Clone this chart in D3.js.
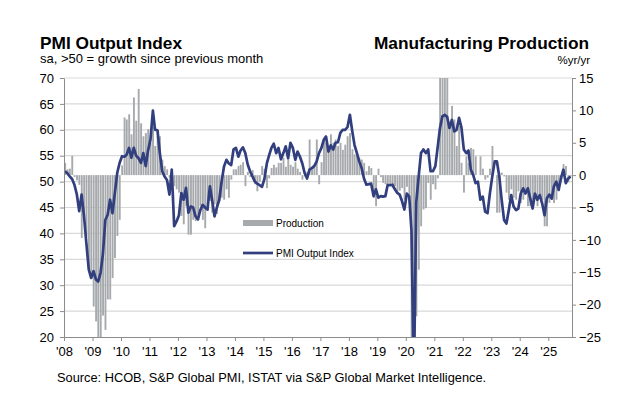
<!DOCTYPE html>
<html>
<head>
<meta charset="utf-8">
<script src="https://cdn.jsdelivr.net/npm/d3@7"></script>
<style>
  body { margin: 0; background: #fff; }
  svg { display: block; font-family: "Liberation Sans", Arial, sans-serif; }
</style>
</head>
<body>
<div id="chart"></div>
<script>
// monthly values, Jan 2008 .. Oct 2025 (one row per year)
const pmiOutput = [
  52.0, 51.6, 51.0, 50.5, 49.4, 47.5, 44.3, 47.5, 43.3, 38.1, 33.0, 31.4,
  32.7, 31.1, 30.7, 32.4, 36.0, 42.6, 43.6, 46.5, 43.9, 47.8, 51.7, 53.6,
  54.9, 54.8, 55.2, 56.5, 54.6, 56.5, 55.0, 54.5, 53.6, 55.5, 53.0, 56.0,
  58.1, 63.7, 60.0, 59.9, 55.5, 52.0, 51.0, 50.3, 47.5, 52.3, 41.4, 42.3,
  43.5, 47.8, 46.5, 48.8, 44.0, 45.2, 45.0, 43.3, 42.7, 44.5, 45.5, 45.0,
  44.6, 49.1, 46.5, 43.3, 45.0, 46.5, 50.0, 52.9, 54.2, 53.5, 53.2, 56.2,
  56.5, 54.8, 56.0, 56.6, 55.5, 53.3, 52.0, 51.0, 50.0, 49.6, 49.3, 49.0,
  50.5, 53.5, 55.0, 56.5, 57.3, 55.5, 56.5, 54.3, 55.5, 56.8, 54.5, 57.5,
  56.5, 54.2, 55.8, 54.8, 53.5, 51.6, 50.6, 52.3, 52.6, 53.0, 53.9, 55.5,
  56.5, 58.1, 58.7, 55.8, 57.0, 56.2, 57.5, 57.6, 59.4, 60.0, 60.0, 60.5,
  62.9, 59.7, 57.1, 55.5, 53.9, 52.6, 50.6, 49.4, 49.5, 49.6, 47.2, 48.5,
  46.9, 47.2, 47.1, 47.2, 49.4, 49.3, 49.4, 48.5, 47.8, 47.5, 46.2, 44.6,
  47.7, 47.1, 40.5, 11.0, 46.0, 51.0, 55.5, 56.2, 55.5, 56.2, 52.0, 52.0,
  53.0, 56.8, 60.3, 62.6, 62.9, 62.5, 60.3, 61.9, 59.7, 60.0, 62.3, 60.5,
  56.2, 55.5, 56.0, 52.3, 51.3, 49.7, 50.0, 46.5, 47.1, 44.2, 43.9, 47.7,
  51.0, 53.9, 53.9, 51.0, 46.5, 42.6, 41.9, 44.5, 47.4, 45.2, 44.5, 44.8,
  47.7, 48.7, 47.7, 48.7, 46.8, 44.8, 47.7, 46.5, 47.4, 45.8, 43.5, 46.8,
  47.5, 46.7, 49.1, 50.0, 48.4, 50.7, 52.3, 49.7, 50.6, 51.0
];

const production = [
  1.9, 0.9, 1.0, 3.0, -0.3, -0.8, -1.5, -9.7, -6.3, -9.5, -14.6, -15.5,
  -20.3, -22.6, -27.0, -26.0, -21.7, -23.9, -19.2, -19.2, -15.9, -12.8, -9.4, -6.9,
  1.5, 8.9, 8.6, 9.4, 6.3, 12.0, 8.4, 13.3, 8.0, 6.0, 6.5, 7.1,
  5.0, 7.5, 4.5, 6.0, 6.0, 2.4, 1.4, 0.9, -0.4, 0.9, -1.7, -2.2,
  -2.7, -6.3, -7.6, -4.8, -9.2, -9.2, -6.9, -7.1, -6.3, -4.8, -6.9, -8.2,
  -5.5, -4.0, -5.8, -4.5, -6.0, -4.0, -3.5, -3.8, -2.2, -3.5, -0.7, 0.9,
  0.9, 1.4, 1.6, 2.0, -1.7, 0.5, -0.3, 0.8, -1.4, -2.5, -1.0, 1.4,
  1.0, -2.0, -0.5, 1.1, 1.6, 1.2, 1.9, 1.9, 2.7, 1.3, 2.4, 1.6,
  1.3, 2.0, 1.0, 0.5, -0.7, -0.2, 0.5, 5.5, 0.9, 1.5, 5.5, -1.4,
  2.0, 5.5, 5.0, 4.0, 6.3, 5.0, 5.5, 4.5, 5.0, 3.9, 4.7, 6.0,
  6.5, 4.0, 3.2, 2.9, 2.7, 2.4, 1.9, 0.6, 1.4, 1.1, -3.5, -4.8,
  1.0, -0.3, -1.2, -1.4, -1.2, -1.5, -2.0, -1.7, -2.7, -2.4, -2.0, -3.8,
  -1.8, -3.3, -28.0, -40.0, -21.8, -14.6, -7.9, -5.3, -5.1, -1.2, -3.8, -1.4,
  -2.2, -0.5, 38.0, 79.0, 22.0, 15.5, 7.0, 10.7, 8.6, 4.5, 7.6, 1.9,
  -2.7, 2.9, 1.9, 4.2, 4.0, 2.9, 0.0, 2.9, 1.0, -0.7, -0.4, 1.0,
  4.5, 0.0, -5.8, -5.8, 0.4, -0.2, -2.7, -3.8, -2.2, -3.5, -3.8, -2.5,
  -4.3, -3.8, -2.7, -4.8, -4.8, -4.8, -2.7, -4.8, -3.2, -3.8, -7.9, -7.9,
  -4.3, -3.8, -4.3, -3.8, -1.7, -0.7, 1.7, 1.4, -1.1, -0.2
];

const yearLabels = ["'08", "'09", "'10", "'11", "'12", "'13", "'14", "'15", "'16",
                    "'17", "'18", "'19", "'20", "'21", "'22", "'23", "'24", "'25"];
const leftTicks = [20, 25, 30, 35, 40, 45, 50, 55, 60, 65, 70];
const rightTicks = [-25, -20, -15, -10, -5, 0, 5, 10, 15];

const width = 629, height = 395;
const plot = {left: 64, right: 572, top: 78, bottom: 337};
const lineColor = "#323f7e", barColor = "#a7aaad", gridColor = "#d9d9d9", axisColor = "#8c8c8c";

const months = pmiOutput.map((_, i) => new Date(2008, i, 1));

const svg = d3.select("#chart").append("svg")
    .attr("width", width)
    .attr("height", height);

const x = d3.scaleTime()
    .domain([new Date(2008, 0, 1), new Date(2025, 10, 1)])
    .range([plot.left, plot.right]);
const yLeft = d3.scaleLinear().domain([20, 70]).range([plot.bottom, plot.top]);
const yRight = d3.scaleLinear().domain([-25, 15]).range([plot.bottom, plot.top]);

svg.append("clipPath").attr("id", "plotClip")
  .append("rect")
    .attr("x", plot.left).attr("y", plot.top)
    .attr("width", plot.right - plot.left).attr("height", plot.bottom - plot.top);

// gridlines
svg.append("g").selectAll("line")
  .data(leftTicks.filter(d => d > 20))
  .join("line")
    .attr("x1", plot.left).attr("x2", plot.right)
    .attr("y1", d => yLeft(d)).attr("y2", d => yLeft(d))
    .attr("stroke", gridColor).attr("stroke-width", 1.2);

// production bars (right axis)
svg.append("g").attr("clip-path", "url(#plotClip)")
  .selectAll("rect")
  .data(production)
  .join("rect")
    .attr("x", (d, i) => x(months[i]) + 0.2)
    .attr("width", 1.9)
    .attr("y", d => yRight(Math.max(d, 0)))
    .attr("height", d => Math.abs(yRight(d) - yRight(0)))
    .attr("fill", barColor);

// PMI line (left axis)
const line = d3.line()
    .x((d, i) => x(months[i]) + 1)
    .y(d => yLeft(d));

svg.append("path")
    .datum(pmiOutput)
    .attr("clip-path", "url(#plotClip)")
    .attr("d", line)
    .attr("fill", "none")
    .attr("stroke", lineColor)
    .attr("stroke-width", 2.7)
    .attr("stroke-linejoin", "round");

// axes
function styleAxis(g) {
  g.selectAll("path, line").attr("stroke", axisColor);
  g.selectAll("text").attr("fill", "#000").style("font-size", "13px")
    .style("font-family", "'Liberation Sans', Arial, sans-serif");
}

svg.append("g")
    .attr("transform", `translate(${plot.left},0)`)
    .call(d3.axisLeft(yLeft).tickValues(leftTicks).tickSize(4).tickSizeOuter(0).tickPadding(6))
    .call(styleAxis);

svg.append("g")
    .attr("transform", `translate(${plot.right},0)`)
    .call(d3.axisRight(yRight).tickValues(rightTicks).tickSize(4).tickSizeOuter(0).tickPadding(3))
    .call(styleAxis);

const yearTicks = yearLabels.map((_, i) => new Date(2008 + i, 0, 1));
svg.append("g")
    .attr("transform", `translate(0,${plot.bottom})`)
    .call(d3.axisBottom(x).tickValues(yearTicks).tickFormat((d, i) => yearLabels[i])
      .tickSize(4).tickSizeOuter(0).tickPadding(6))
    .call(styleAxis);

// legend
svg.append("rect")
    .attr("x", 243).attr("y", 220).attr("width", 30).attr("height", 6)
    .attr("fill", barColor);
svg.append("text")
    .attr("x", 276).attr("y", 226.5)
    .style("font-size", "10px")
    .text("Production");
svg.append("line")
    .attr("x1", 243).attr("x2", 273).attr("y1", 253).attr("y2", 253)
    .attr("stroke", lineColor).attr("stroke-width", 2.7);
svg.append("text")
    .attr("x", 276).attr("y", 256.5)
    .style("font-size", "10px")
    .text("PMI Output Index");

// titles
svg.append("text")
    .attr("x", 40).attr("y", 49)
    .style("font-size", "17.3px").style("font-weight", "bold")
    .text("PMI Output Index");
svg.append("text")
    .attr("x", 40).attr("y", 63)
    .style("font-size", "13px")
    .text("sa, >50 = growth since previous month");
svg.append("text")
    .attr("x", 589).attr("y", 49)
    .attr("text-anchor", "end")
    .style("font-size", "17.3px").style("font-weight", "bold")
    .text("Manufacturing Production");
svg.append("text")
    .attr("x", 590).attr("y", 64)
    .attr("text-anchor", "end")
    .style("font-size", "11.5px")
    .text("%yr/yr");

svg.append("text")
    .attr("x", 57).attr("y", 382)
    .style("font-size", "12.8px")
    .text("Source: HCOB, S&P Global PMI, ISTAT via S&P Global Market Intelligence.");
</script>
</body>
</html>
